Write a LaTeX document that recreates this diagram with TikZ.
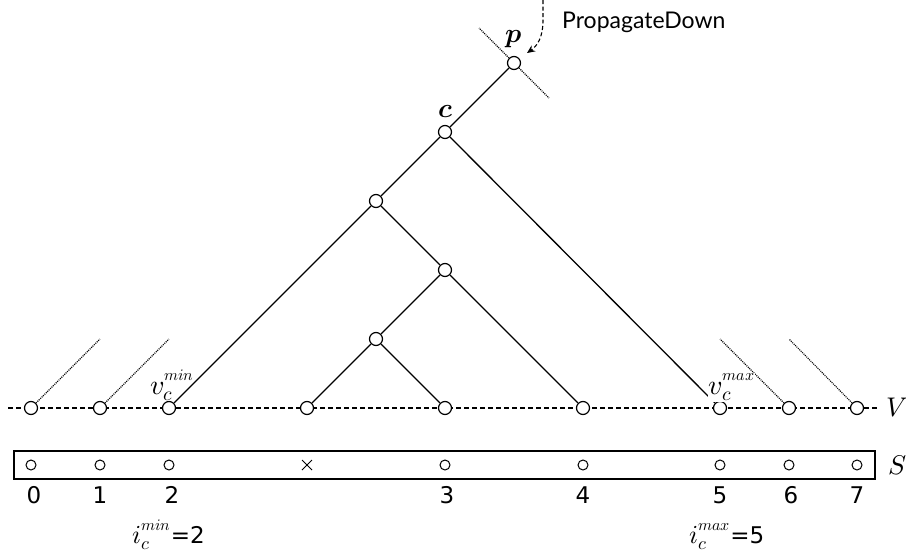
\documentclass[tikz,border=0pt]{standalone}
\usepackage{fontspec}
\usepackage{unicode-math}
\setmathfont{latinmodern-math.otf}
\newfontfamily\lato{Lato}
\newfontfamily\dejavu{DejaVu Sans}
\usetikzlibrary{arrows.meta,shapes.misc}
\newcommand{\supx}[1]{\raisebox{3pt}{\fontsize{16}{18}\selectfont$#1$}}
\tikzset{
  tn/.style={circle,draw,fill=white,minimum size=13pt,inner sep=0pt,line width=1.2pt},
  sn/.style={circle,draw,minimum size=10pt,inner sep=0pt,line width=1pt},
  tedge/.style={line width=1.3pt},
  dotl/.style={line width=1.1pt,dash pattern=on 1pt off 1pt},
  vline/.style={line width=1.1pt,dash pattern=on 5pt off 3pt},
  vlab/.style={inner sep=0pt,font=\fontsize{28}{32}\selectfont},
  ilab/.style={inner sep=0pt,font=\fontsize{26}{30}\selectfont},
  blab/.style={inner sep=0pt,font=\fontsize{27}{31}\selectfont},
  dig/.style={inner sep=0pt,anchor=base,font=\dejavu\fontsize{23}{27}\selectfont}
}
\begin{document}
\begin{tikzpicture}[x=1pt,y=-1pt]
\useasboundingbox (0,0) rectangle (906,554);
% V line
\coordinate (vl) at (8,408);
\coordinate (vr) at (878,408);
\draw[vline] (vl) -- (vr);
% tree nodes
\node[tn] (p) at (514,63) {};
\node[tn] (c) at (445,132) {};
\node[tn] (a) at (376,201) {};
\node[tn] (b) at (445,270) {};
\node[tn] (d) at (376,339) {};
\node[tn] (l0) at (31,408) {};
\node[tn] (l1) at (100,408) {};
\node[tn] (l2) at (169,408) {};
\node[tn] (l3) at (307,408) {};
\node[tn] (l4) at (445,408) {};
\node[tn] (l5) at (583,408) {};
\node[tn] (l6) at (720,408) {};
\node[tn] (l7) at (789,408) {};
\node[tn] (l8) at (857,408) {};
% edges
\draw[tedge] (p) -- (c);
\draw[tedge] (c) -- (a);
\draw[tedge] (c) -- (l6);
\draw[tedge] (a) -- (l2);
\draw[tedge] (a) -- (b);
\draw[tedge] (b) -- (d);
\draw[tedge] (b) -- (l5);
\draw[tedge] (d) -- (l3);
\draw[tedge] (d) -- (l4);
% dotted stubs
\coordinate (pu) at (479,28);
\coordinate (pd) at (549,98);
\coordinate (s0) at (100,339);
\coordinate (s1) at (169,339);
\coordinate (s7) at (720,339);
\coordinate (s8) at (789,339);
\draw[dotl] (p) -- (pu);
\draw[dotl] (p) -- (pd);
\draw[dotl] (l0) -- (s0);
\draw[dotl] (l1) -- (s1);
\draw[dotl] (l7) -- (s7);
\draw[dotl] (l8) -- (s8);
% labels
\node[blab] (pl) at (514,39) {$\symbfit{p}$};
\node[blab] (cl) at (446,112) {$\symbfit{c}$};
\node[vlab,anchor=base west] (vmin) at (150,394) {$v_c^{\supx{min}}$};
\node[vlab,anchor=base west,fill=white,inner sep=0.5pt] (vmax) at (708,394) {$v_c^{\supx{max}}$};
\node[blab] (vlabel) at (897,408) {$V$};
% PropagateDown
\coordinate (pa) at (543,0);
\coordinate (pb) at (543,20);
\coordinate (pe) at (527,53);
\draw[line width=1.1pt,dash pattern=on 4pt off 2.5pt,-{Stealth[length=8pt,width=7pt]}] (pa) -- (pb) .. controls (543,38) and (537,46) .. (pe);
\node[anchor=west,inner sep=0pt,font=\lato\fontsize{23}{27}\selectfont] (prop) at (562,22) {PropagateDown};
% S array
\node[draw,line width=1.2pt,minimum width=861pt,minimum height=28pt,inner sep=0pt] (sbox) at (444.5,465) {};
\node[blab] (slab) at (898,465) {$S$};
\node[sn] (a0) at (31,465) {};
\node[sn] (a1) at (100,465) {};
\node[sn] (a2) at (169,465) {};
\node[cross out,draw,line width=1pt,minimum size=9pt,inner sep=0pt] (ax) at (307,465) {};
\node[sn] (a3) at (445,465) {};
\node[sn] (a4) at (583,465) {};
\node[sn] (a5) at (720,465) {};
\node[sn] (a6) at (789,465) {};
\node[sn] (a7) at (857,465) {};
% indices
\node[dig] (d0) at (34,503) {0};
\node[dig] (d1) at (100,503) {1};
\node[dig] (d2) at (172,503) {2};
\node[dig] (d3) at (447,503) {3};
\node[dig] (d4) at (583,503) {4};
\node[dig] (d5) at (720,503) {5};
\node[dig] (d6) at (791,503) {6};
\node[dig] (d7) at (857,503) {7};
\node[ilab,anchor=base west] (imin) at (132,543) {$i_c^{\supx{min}}$\dejavu\fontsize{23}{27}\selectfont=2};
\node[ilab,anchor=base west] (imax) at (689,543) {$i_c^{\supx{max}}$\dejavu\fontsize{23}{27}\selectfont=5};
\end{tikzpicture}
\end{document}
